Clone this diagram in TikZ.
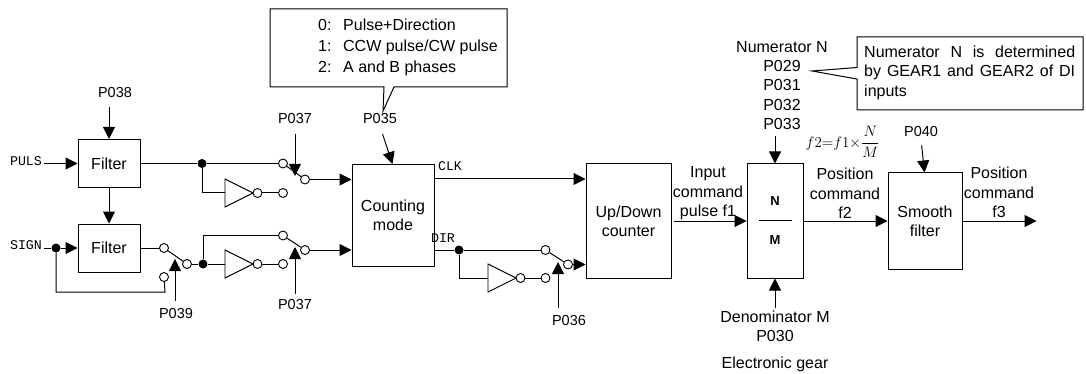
\documentclass[tikz,border=0pt]{standalone}
\usepackage{fix-cm}
\usepackage{amsmath}
\usepackage{fontspec}
\setmainfont{Liberation Sans}
\setmonofont{Liberation Mono}
\usetikzlibrary{arrows.meta, positioning, shapes.geometric, calc}
\tikzset{
  every node/.style={font=\fontsize{16}{19.4}\selectfont, inner sep=2pt},
  wire/.style={line width=1pt, draw=black},
  arr/.style={wire, -{Triangle[length=12pt,width=12pt]}},
  blockbox/.style={draw=black, line width=1pt, align=center, minimum width=#1, inner sep=0pt},
  contact/.style={circle, draw=black, fill=white, line width=0.9pt, minimum size=9pt, inner sep=0pt},
  jdot/.style={circle, fill=black, minimum size=9pt, inner sep=0pt},
  sig/.style={font=\fontsize{13.3}{16}\ttfamily},
  par/.style={font=\fontsize{14.5}{16}\selectfont},
}
% inverter with output bubble: name, left x, y
\newcommand{\invgate}[3]{%
  \coordinate (#1in) at (#2,#3);
  \draw[wire, line width=0.9pt, fill=white] (#2,#3-14) -- (#2+28,#3) -- (#2,#3+14) -- cycle;
  \node[contact] (#1b) at (#2+32.5,#3){};}
\begin{document}
\begin{tikzpicture}[x=1pt,y=-1pt]
\useasboundingbox (0,0) rectangle (1086,374);
% blocks
\node[blockbox=62pt, minimum height=48pt] (fltA) at (109,163.5){Filter};
\node[blockbox=62pt, minimum height=48pt] (fltB) at (109,248){Filter};
\node[blockbox=82pt, minimum height=102pt] (cnt) at (393,215.5){Counting\\mode};
\node[blockbox=85pt, minimum height=114pt] (updown) at (628.5,221){Up/Down\\counter};
\node[blockbox=56pt, minimum height=114pt] (gear) at (775,221){};
\node[blockbox=74pt, minimum height=96pt] (smooth) at (925,221){Smooth\\filter};
% signal and parameter labels
\node[sig] (puls) at (26,161){PULS};
\node[sig] (sign) at (26,245){SIGN};
\node[sig] (clk) at (450,166){CLK};
\node[sig] (dir) at (443,238){DIR};
\foreach \nm/\xx/\yy/\tx in {p38/115/93/P038, p37a/295/119/P037, p37b/295/305/P037, p39/176/314/P039,
  p35/380/119/P035, p36/569/321/P036, p40/921/132/P040}{
  \node[par] (\nm) at (\xx,\yy){\tx};}
\node[align=center] (num) at (782,85.5){Numerator N\\P029\\P031\\P032\\P033};
\node[align=center] (den) at (775,326.5){Denominator M\\P030};
\node (egear) at (775,364){Electronic gear};
\node[align=center] (inlab) at (708,193.5){Input\\command\\pulse f1};
\node[align=center] (poslabA) at (845,193.5){Position\\command\\f2};
\node[align=center] (poslabB) at (999,192.5){Position\\command\\f3};
\node (ratio) at (842.5,142){\fontsize{15}{17}\selectfont$\displaystyle f2{=}f1{\times}\frac{N}{M}$};
% N over M
\node[font=\fontsize{13}{15}\selectfont\bfseries] (gn) at (775,201){N};
\node[font=\fontsize{13}{15}\selectfont\bfseries] (gm) at (775,240){M};
\draw[line width=0.6pt, draw=black] (759,220.5) -- (792,220.5);
% switch contacts
\foreach \nm/\xx/\yy in {swAa/283/163.5, swAb/283/193, swAo/305/179.5,
  swBa/164/248, swBb/164/277, swBo/187/264,
  swCa/283/235.5, swCb/283/264, swCo/305/250,
  swDa/545.5/250, swDb/545.5/278, swDo/568/264.5}{
  \node[contact] (\nm) at (\xx,\yy){};}
\foreach \nm in {A,B,C,D}{
  \draw[wire] (sw\nm a) -- (sw\nm o);}
% junctions
\foreach \nm/\xx/\yy in {dotA/202/163.5, dotS/56/248, dotB/203/264, dotD/459/250}{
  \node[jdot] (\nm) at (\xx,\yy){};}
% inverters
\invgate{invA}{225}{193}
\invgate{invB}{225}{264}
\invgate{invD}{488}{278}
\draw[wire] (invAb) -- (swAb);
\draw[wire] (invBb) -- (swCb);
\draw[wire] (invDb) -- (swDb);
\draw[wire] (dotA) |- (invAin);
\draw[wire] (dotB) -- (invBin);
\draw[wire] (dotD) |- (invDin);
% PULS path
\draw[arr] (puls.east |- fltA) -- (fltA.west);
\draw[arr, shorten <=7pt] (p38.south -| fltA) -- (fltA.north);
\draw[arr] (fltA.south) -- (fltB.north);
\draw[wire] (fltA.east) -- (dotA) -- (swAa);
\draw[arr] (swAo) -- (swAo -| cnt.west);
% SIGN path
\draw[wire] (sign.east |- dotS) -- (dotS);
\draw[arr] (dotS) -- (fltB.west);
\draw[wire] (dotS) |- (165,292) -- (swBb);
\draw[wire] (fltB.east) -- (swBa);
\draw[wire] (swBo) -- (dotB);
\draw[wire] (dotB) |- (swCa);
\draw[arr] (swCo) -- (swCo -| cnt.west);
% parameter arrows on the switches
\coordinate (armA) at (295,176);
\coordinate (armB) at (175,259);
\coordinate (armC) at (295,247);
\coordinate (armD) at (558,262);
\draw[arr, shorten <=8pt] (p37a.south) -- (armA);
\draw[arr, shorten <=6pt] (armB |- p39.north) -- (armB);
\draw[arr, shorten <=4pt] (p37b.north) -- (armC);
\draw[arr, shorten <=6pt] (armD |- p36.north) -- (armD);
\draw[arr, shorten <=8pt] (p35.south) -- ($(cnt.north west)+(41,0)$);
% CLK and DIR
\coordinate (clkpt) at (434,179);
\draw[arr] (clkpt) -- (clkpt -| updown.west);
\draw[wire] (dotD -| cnt.east) -- (dotD) -- (swDa);
\draw[arr] (swDo) -- (swDo -| updown.west);
% forward path
\draw[arr] (updown.east) ++(2,0) -- (gear.west);
\draw[arr] (gear.east) -- (smooth.west);
\draw[arr] (smooth.east) -- ++(74,0) coordinate (outpt);
\draw[arr, shorten <=4pt] (num.south -| gear) -- (gear.north);
\draw[arr, shorten <=1pt] (den.north) -- (gear.south);
\draw[arr, shorten <=6pt] (p40.south) -- ($(smooth.north west)+(37,0)$);
% callouts
\draw[wire, fill=white] (270,9) -- (507,9) -- (507,87) -- (394,87) -- (383,111) -- (384,87) -- (270,87) -- cycle;
\node[anchor=west, align=left, font=\fontsize{16}{21}\selectfont] (modes) at (316,47){\makebox[25pt][l]{0:}Pulse+Direction\\\makebox[25pt][l]{1:}CCW pulse/CW pulse\\\makebox[25pt][l]{2:}A and B phases};
\draw[wire, fill=white] (857,37) -- (1083,37) -- (1083,110) -- (857,110) -- (857,79) -- (812,71) -- (857,67.5) -- cycle;
\node[anchor=west, text width=211pt, align=justify] (gearnote) at (862,72.5){Numerator N is determined\linebreak by GEAR1 and GEAR2 of DI\linebreak inputs};
\end{tikzpicture}
\end{document}
